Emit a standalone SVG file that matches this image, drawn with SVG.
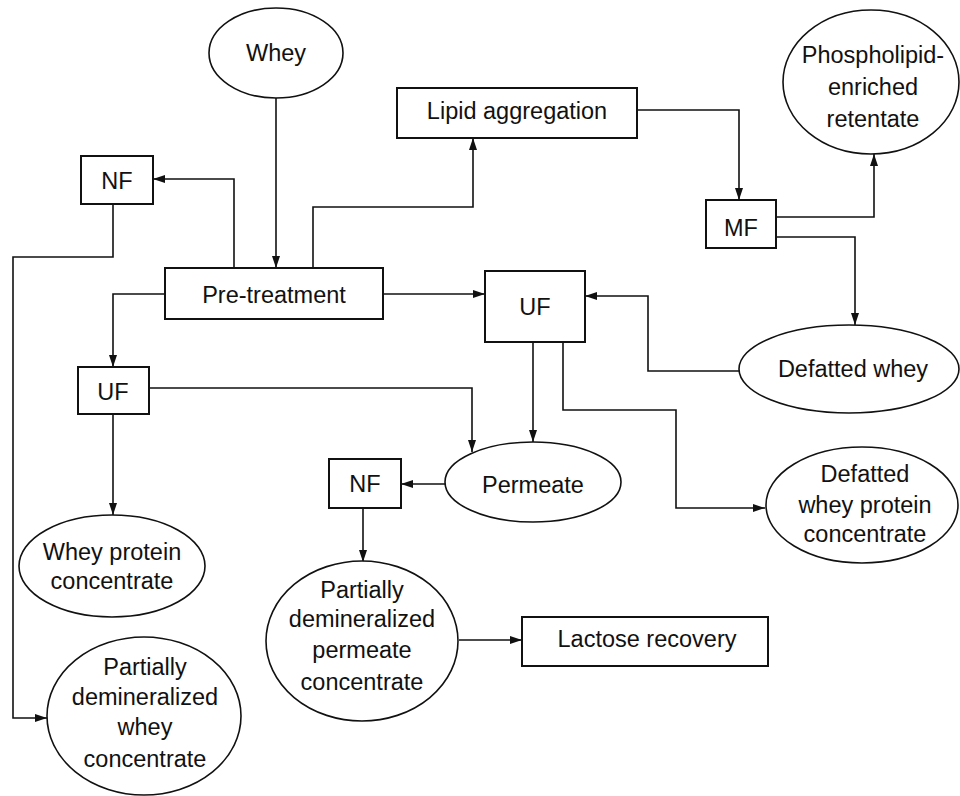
<svg xmlns="http://www.w3.org/2000/svg" width="960" height="796" viewBox="0 0 960 796">
<defs>
<marker id="ah" markerWidth="13" markerHeight="9" refX="12" refY="4" orient="auto" markerUnits="userSpaceOnUse">
<path d="M0,0 L12,4 L0,8 z" fill="#111"/>
</marker>
<style>
.box{fill:#fff;stroke:#111;stroke-width:2}
.ell{fill:#fff;stroke:#111;stroke-width:1.6}
.t{font-family:"Liberation Sans","DejaVu Sans",sans-serif;font-size:23.5px;fill:#111;text-anchor:middle}
.c{fill:none;stroke:#111;stroke-width:1.6;marker-end:url(#ah)}
</style>
</defs>
<rect width="960" height="796" fill="#fff"/>
<g id="connectors">
<path class="c" d="M276 98 V268"/>
<path class="c" d="M234 268 V179 H153"/>
<path class="c" d="M313 268 V207 H473 V138"/>
<path class="c" d="M637 110 H739 V200"/>
<path class="c" d="M776 217 H874 V154"/>
<path class="c" d="M776 237 H855 V325"/>
<path class="c" d="M739 371 H648 V296 H585"/>
<path class="c" d="M383 294 H485"/>
<path class="c" d="M165 294 H113 V367"/>
<path class="c" d="M149 388 H472 V452"/>
<path class="c" d="M113 414 V515"/>
<path class="c" d="M113 204 V257 H13 V718 H47"/>
<path class="c" d="M533 342 V442"/>
<path class="c" d="M563 342 V410 H676 V508 H765"/>
<path class="c" d="M445 484 H401"/>
<path class="c" d="M363 508 V562"/>
<path class="c" d="M459 640 H522"/>
</g>
<g id="whey"><ellipse class="ell" cx="276" cy="53" rx="67" ry="45"/><text class="t" x="276" y="61">Whey</text></g>
<g id="lipid-aggregation"><rect class="box" x="397" y="88" width="240" height="50"/><text class="t" x="517" y="119">Lipid aggregation</text></g>
<g id="phospholipid-retentate"><ellipse class="ell" cx="871" cy="82" rx="88" ry="72"/><text class="t" x="873" y="63">Phospholipid-</text><text class="t" x="873" y="95">enriched</text><text class="t" x="873" y="127">retentate</text></g>
<g id="nf-top"><rect class="box" x="81" y="156" width="72" height="48"/><text class="t" x="117" y="189">NF</text></g>
<g id="mf"><rect class="box" x="706" y="200" width="70" height="48"/><text class="t" x="741" y="236">MF</text></g>
<g id="pre-treatment"><rect class="box" x="165" y="268" width="218" height="51"/><text class="t" x="274" y="303">Pre-treatment</text></g>
<g id="uf-main"><rect class="box" x="485" y="271" width="100" height="71"/><text class="t" x="535" y="315">UF</text></g>
<g id="defatted-whey"><ellipse class="ell" cx="849" cy="369" rx="110" ry="44"/><text class="t" x="853" y="377">Defatted whey</text></g>
<g id="uf-left"><rect class="box" x="78" y="367" width="71" height="47"/><text class="t" x="113" y="400">UF</text></g>
<g id="permeate"><ellipse class="ell" cx="533" cy="482" rx="88" ry="40"/><text class="t" x="533" y="493">Permeate</text></g>
<g id="nf-lower"><rect class="box" x="329" y="459" width="72" height="49"/><text class="t" x="365" y="492">NF</text></g>
<g id="defatted-wpc"><ellipse class="ell" cx="862" cy="505" rx="96" ry="58"/><text class="t" x="865" y="482">Defatted</text><text class="t" x="865" y="513">whey protein</text><text class="t" x="865" y="542">concentrate</text></g>
<g id="wpc"><ellipse class="ell" cx="112" cy="566" rx="93" ry="51"/><text class="t" x="112" y="560">Whey protein</text><text class="t" x="112" y="589">concentrate</text></g>
<g id="pdpc"><ellipse class="ell" cx="362" cy="641" rx="96" ry="80"/><text class="t" x="362" y="598">Partially</text><text class="t" x="362" y="627">demineralized</text><text class="t" x="362" y="658">permeate</text><text class="t" x="362" y="690">concentrate</text></g>
<g id="lactose-recovery"><rect class="box" x="522" y="617" width="246" height="49"/><text class="t" x="647" y="647">Lactose recovery</text></g>
<g id="pdwc"><ellipse class="ell" cx="144" cy="716" rx="97" ry="79"/><text class="t" x="145" y="675">Partially</text><text class="t" x="145" y="705">demineralized</text><text class="t" x="145" y="735">whey</text><text class="t" x="145" y="767">concentrate</text></g>
</svg>
